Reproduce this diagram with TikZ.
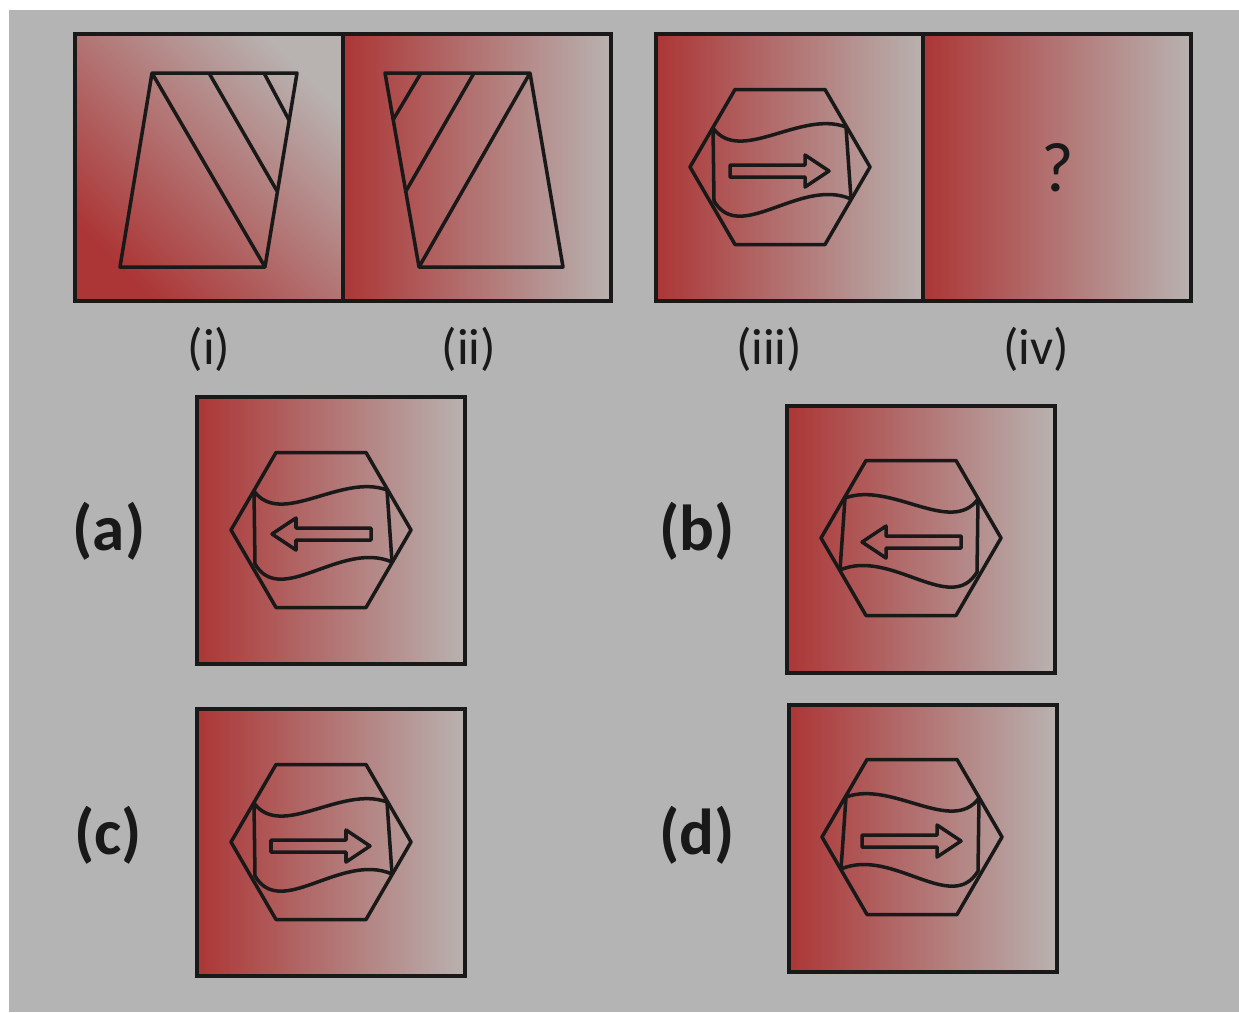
\documentclass[tikz,border=0pt]{standalone}
\usepackage{fontspec}
\setmainfont{Carlito}
\definecolor{bggray}{RGB}{180,180,180}
\definecolor{redL}{RGB}{172,54,54}
\definecolor{grayR}{RGB}{184,178,176}
\definecolor{ink}{RGB}{25,25,25}

\begin{document}
\begin{tikzpicture}[x=0.02cm, y=-0.02cm,
  panel/.style={draw=ink, line width=2.2pt, left color=redL, right color=grayR},
  outl/.style={draw=ink, line width=2pt, line join=round},
  lbl/.style={text=ink, font=\fontsize{29}{30}\selectfont},
  opt/.style={text=ink, font=\fontsize{37}{40}\selectfont\bfseries}]
\useasboundingbox (0,0) rectangle (1239,1012);
\fill[bggray] (9,10) rectangle (1239,1012);
\shade[panel, top color=redL, bottom color=grayR, shading angle=135] (75,34) rectangle (343,301);
\foreach \x in {343,656,923} {
 \shade[panel] (\x,34) rectangle ++(268,267);
}
\foreach \x/\y in {197/397, 787/406, 197/709, 789/705} {
 \shade[panel] (\x,\y) rectangle ++(268,267);
}
\draw[outl] (152,73) -- (297,73) -- (265,267) -- (120,267) -- cycle;
\draw[outl] (152,73) -- (265,267) (209,73) -- (277,191) (264,73) -- (289,120);
\draw[outl] (385,73) -- (530,73) -- (563,267) -- (419,267) -- cycle;
\draw[outl] (530,73) -- (419,267) (474,73) -- (406,191) (421,73) -- (393,120);
\foreach \cx/\cy/\cm/\ad in {780/167/1/1, 321/530/1/-1, 911/538/-1/-1, 321/842/1/1, 912/837/-1/1} {
 \begin{scope}[shift={(\cx,\cy)}]
  \draw[outl] (-90,0) -- (-45,-77.5) -- (45,-77.5) -- (90,0) -- (45,77.5) -- (-45,77.5) -- cycle;
  \draw[outl, xscale=\cm] (-67,-39) .. controls (-40,-2) and (20,-57) .. (66,-40) -- (71,32)
    .. controls (20,10) and (-40,78) .. (-66,34) -- cycle;
  \draw[outl, xscale=\ad] (-50,-2) -- (25,-2) -- (25,-12) -- (49,4) -- (25,20) -- (25,10) -- (-50,10) -- cycle;
 \end{scope}
}
\node[lbl] (lbli) at (209,349) {(i)};
\node[lbl] (lblii) at (469,349) {(ii)};
\node[lbl] (lbliii) at (769,349) {(iii)};
\node[lbl] (lbliv) at (1036,349) {(iv)};
\node[text=ink, font=\fontsize{40}{42}\selectfont] (qmark) at (1058,168) {?};
\node[opt] (opta) at (109,531) {(a)};
\node[opt] (optb) at (697,531) {(b)};
\node[opt] (optc) at (108,835) {(c)};
\node[opt] (optd) at (697,835) {(d)};
\end{tikzpicture}
\end{document}
